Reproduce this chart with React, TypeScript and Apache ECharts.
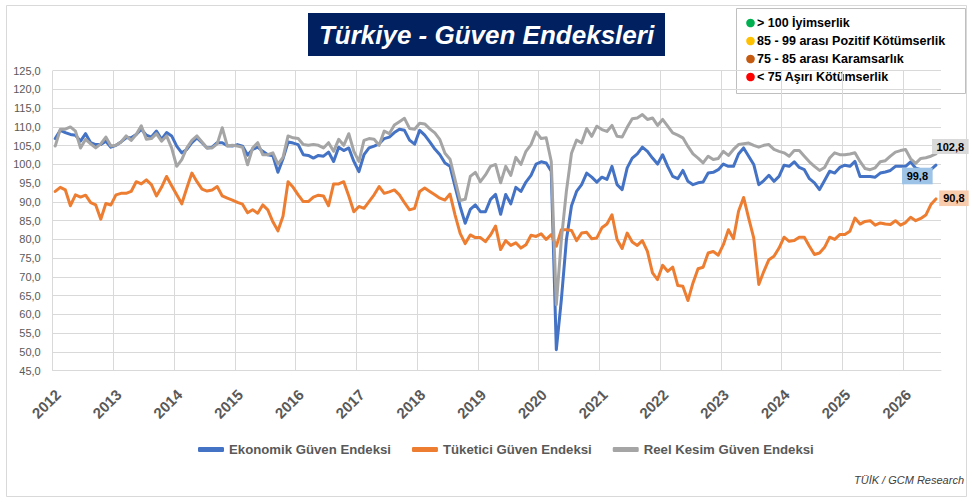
import React, { useEffect, useRef } from 'react';
import * as echarts from 'echarts';

// Tick labels (one per year, placed at each January boundary)
const YEARS = ['2012', '2013', '2014', '2015', '2016', '2017', '2018', '2019', '2020', '2021', '2022', '2023', '2024', '2025', '2026'];

const SERIES_NAMES = ['Ekonomik Güven Endeksi', 'Tüketici Güven Endeksi', 'Reel Kesim Güven Endeksi'];

// Monthly values, Jan 2012 .. Jul 2026
const ekonomik = [
  106.9, 109.1, 108.5, 108.0, 107.8, 106.2, 108.2, 105.8, 105.3, 105.3, 106.2, 104.6,
  105.1, 106.0, 107.1, 107.1, 108.0, 109.4, 107.8, 107.3, 108.9, 106.7, 108.5, 107.6,
  104.9, 103.1, 104.0, 105.8, 107.1, 105.8, 104.4, 104.6, 105.8, 105.8, 105.0, 104.9,
  105.3, 104.9, 102.5, 104.0, 104.6, 103.5, 102.6, 102.3, 97.9, 101.5, 106.0, 105.7,
  105.3, 102.6, 102.4, 101.7, 102.4, 102.2, 103.3, 100.8, 104.6, 103.7, 104.4, 100.8,
  98.1, 102.6, 104.4, 104.9, 105.5, 106.9, 107.3, 108.5, 109.4, 109.1, 106.5, 105.4,
  109.1, 107.8, 106.0, 104.1, 102.6, 100.4, 99.5, 94.1, 88.8, 84.3, 88.0, 89.2,
  87.4, 87.4, 90.7, 92.0, 86.7, 92.0, 89.5, 93.9, 92.8, 95.3, 97.1, 100.1,
  100.7, 100.4, 98.2, 50.6, 64.0, 80.0, 89.0, 92.8, 94.6, 97.7, 96.6, 95.3,
  96.6, 96.0, 99.5, 94.6, 93.3, 99.1, 101.7, 102.8, 104.6, 103.5, 101.7, 100.1,
  102.6, 99.5, 96.8, 96.2, 98.4, 95.5, 94.6, 95.1, 95.3, 97.7, 97.9, 98.6,
  100.1, 99.5, 99.5, 102.8, 104.4, 102.2, 100.0, 94.6, 95.7, 97.1, 95.5, 96.8,
  99.8, 99.5, 100.7, 99.2, 98.6, 96.2, 95.1, 93.3, 95.7, 98.2, 97.7, 99.2,
  99.8, 99.5, 100.8, 96.8, 96.8, 96.8, 96.6, 97.7, 98.0, 98.4, 99.5, 99.5,
  99.5, 100.7, 99.0, 98.6, 98.4, 98.6, 99.8,
];

const tuketici = [
  92.8, 93.9, 93.2, 89.0, 91.9, 91.3, 91.8, 89.8, 89.2, 85.4, 89.6, 89.2,
  91.9, 92.3, 92.3, 92.8, 95.4, 94.8, 95.9, 94.6, 91.6, 93.9, 96.8, 94.3,
  91.9, 89.5, 93.7, 97.7, 95.4, 93.4, 92.9, 93.2, 94.1, 91.6, 91.0, 90.5,
  89.9, 89.4, 87.1, 87.9, 87.0, 89.2, 87.9, 84.7, 82.3, 86.2, 95.4, 93.9,
  91.9, 90.1, 90.1, 91.3, 91.8, 91.6, 89.0, 94.8, 94.8, 95.4, 91.6, 87.4,
  88.8, 88.3, 90.1, 91.9, 94.1, 92.3, 92.7, 93.2, 91.9, 89.8, 87.9, 88.3,
  92.8, 93.7, 92.8, 91.9, 91.0, 90.5, 92.1, 86.5, 81.6, 78.9, 81.2, 80.5,
  80.5, 79.4, 81.2, 83.6, 77.3, 79.7, 78.4, 79.1, 77.7, 78.6, 81.1, 80.8,
  81.5, 80.0, 81.3, 78.2, 82.6, 82.6, 82.4, 79.7, 81.7, 81.9, 80.2, 80.4,
  83.1, 84.1, 86.6, 80.0, 77.6, 81.7, 79.3, 78.4, 79.7, 76.8, 71.1, 69.3,
  73.1, 71.5, 72.6, 67.7, 67.5, 63.7, 68.4, 72.2, 72.6, 76.4, 76.8, 75.8,
  78.6, 82.6, 80.2, 87.5, 91.2, 85.7, 80.4, 68.0, 71.5, 74.6, 75.5, 77.7,
  80.6, 79.5, 79.7, 80.6, 80.6, 78.2, 76.0, 76.4, 77.9, 80.6, 80.0, 81.3,
  81.3, 82.2, 85.7, 84.1, 84.8, 85.0, 83.8, 84.4, 84.1, 84.0, 85.0, 83.8,
  84.5, 85.9, 85.0, 85.6, 86.5, 89.3, 90.8,
];

const reelKesim = [
  104.9, 109.4, 109.4, 110.0, 108.9, 104.4, 106.7, 105.5, 104.4, 105.5, 107.3, 104.9,
  105.1, 106.0, 107.6, 106.4, 108.0, 110.3, 106.7, 106.9, 108.2, 106.2, 107.6, 104.4,
  99.5, 101.3, 104.4, 106.4, 107.6, 106.0, 104.4, 104.4, 105.5, 109.8, 104.9, 105.1,
  104.9, 104.6, 99.9, 104.4, 105.8, 102.6, 102.6, 103.1, 100.1, 101.9, 107.6, 107.1,
  106.9, 105.3, 105.1, 105.3, 105.1, 104.4, 105.8, 103.5, 106.7, 105.1, 108.2, 103.5,
  100.8, 106.4, 106.9, 106.7, 105.1, 108.9, 108.2, 110.5, 111.4, 112.3, 109.6, 109.4,
  111.0, 110.8, 109.5, 108.4, 106.6, 103.0, 101.4, 95.9, 90.4, 90.7, 96.8, 97.9,
  95.4, 97.2, 99.5, 100.0, 95.1, 99.5, 97.1, 101.9, 100.0, 103.5, 105.3, 108.7,
  106.9, 107.1, 100.8, 62.6, 80.0, 93.0, 103.0, 106.5, 105.7, 109.6, 107.5, 110.2,
  109.3, 108.8, 110.4, 107.5, 107.3, 109.9, 112.2, 112.4, 113.3, 112.0, 112.4, 110.4,
  112.0, 110.2, 108.4, 107.8, 107.1, 104.8, 102.8, 101.7, 100.4, 102.2, 101.3, 101.6,
  103.5, 102.4, 104.0, 105.3, 105.5, 105.7, 105.1, 104.6, 105.1, 105.3, 104.0, 103.5,
  103.1, 102.2, 103.7, 103.7, 102.2, 100.7, 99.5, 98.4, 99.2, 101.7, 103.1, 102.6,
  102.6, 102.8, 103.1, 100.8, 98.9, 98.6, 99.1, 100.7, 101.0, 102.2, 103.3, 103.7,
  104.0, 101.5, 100.3, 101.6, 101.8, 102.2, 102.8,
];

const BAND_LABELS = ['> 100 İyimserlik', '85 - 99 arası Pozitif Kötümserlik', '75 - 85 arası Karamsarlık', '< 75 Aşırı Kötümserlik'];
const BAND_COLORS = ['#00b050', '#ffc000', '#c55a11', '#ff0000'];

const TITLE = 'Türkiye - Güven Endeksleri';
const SOURCE = 'TÜİK / GCM Research';

const FONT = '"Liberation Sans", Arial, sans-serif';

export default function App() {
  const ref = useRef<HTMLDivElement>(null);

  useEffect(() => {
    if (!ref.current) return;
    const chart = echarts.init(ref.current, null, { renderer: 'svg' });
    const fmt = (v: number) => v.toFixed(1).replace('.', ',');

    const marker = (arr: number[], bg: string, size: number[], offset: number[]) => ({
      silent: true,
      animation: false,
      symbol: 'rect',
      symbolSize: size,
      symbolOffset: offset,
      itemStyle: { color: bg },
      label: {
        show: true,
        position: 'inside',
        formatter: () => fmt(arr[arr.length - 1]),
        color: '#000',
        fontWeight: 'bold',
        fontSize: 11,
        fontFamily: FONT,
      },
      data: [{ coord: [arr.length - 1, arr[arr.length - 1]], value: arr[arr.length - 1] }],
    });

    const lineSeries = (name: string, arr: number[], color: string, mp: any) => ({
      name,
      type: 'line',
      data: arr.map((v, i) => [i, v]),
      showSymbol: false,
      symbol: 'none',
      lineStyle: { width: 3, color, cap: 'round', join: 'round' },
      itemStyle: { color },
      markPoint: mp,
    });

    const graphics: any[] = [
      {
        type: 'rect',
        shape: { x: 6.5, y: 5.5, width: 960, height: 491 },
        style: { fill: 'none', stroke: '#d9d9d9', lineWidth: 1 },
        silent: true,
        z: -10,
      },
      {
        type: 'rect',
        shape: { x: 308, y: 13, width: 357, height: 43 },
        style: { fill: '#002060' },
        silent: true,
      },
      {
        type: 'text',
        x: 486.5,
        y: 35,
        style: {
          text: TITLE,
          fill: '#ffffff',
          fontFamily: FONT,
          fontSize: 26,
          fontWeight: 'bold',
          fontStyle: 'italic',
          align: 'center',
          verticalAlign: 'middle',
        },
        silent: true,
      },
      {
        type: 'rect',
        shape: { x: 736.5, y: 8.5, width: 229, height: 85 },
        style: { fill: '#ffffff', stroke: '#bfbfbf', lineWidth: 1 },
        silent: true,
      },
      {
        type: 'text',
        right: 8,
        top: 474,
        style: {
          text: SOURCE,
          fill: '#404040',
          fontFamily: FONT,
          fontSize: 11,
          fontStyle: 'italic',
        },
        silent: true,
      },
    ];
    BAND_LABELS.forEach((label, i) => {
      const cy = 23 + i * 18;
      graphics.push({
        type: 'circle',
        shape: { cx: 750.5, cy, r: 4.3 },
        style: { fill: BAND_COLORS[i] },
        silent: true,
      });
      graphics.push({
        type: 'text',
        x: 757,
        y: cy,
        style: {
          text: label,
          fill: '#000000',
          fontFamily: FONT,
          fontSize: 12.5,
          fontWeight: 'bold',
          verticalAlign: 'middle',
        },
        silent: true,
      });
    });

    chart.setOption({
      animation: false,
      backgroundColor: '#ffffff',
      textStyle: { fontFamily: FONT },
      grid: { left: 52.7, right: 31, top: 70.7, bottom: 131.3, containLabel: false },
      legend: {
        data: SERIES_NAMES,
        left: 193,
        top: 438,
        icon: 'roundRect',
        itemWidth: 26,
        itemHeight: 5,
        itemGap: 21,
        selectedMode: false,
        textStyle: { fontFamily: FONT, fontSize: 13.2, fontWeight: 'bold', color: '#595959' },
      },
      xAxis: {
        type: 'value',
        min: -0.5,
        max: 175,
        interval: 12,
        axisLine: { show: true, lineStyle: { color: '#d9d9d9', width: 1 } },
        axisTick: { show: false },
        splitLine: { show: true, showMaxLine: false, lineStyle: { color: '#d9d9d9', width: 1 } },
        axisLabel: {
          rotate: 45,
          verticalAlign: 'top',
          margin: 16,
          showMaxLabel: false,
          fontFamily: FONT,
          fontSize: 15,
          fontWeight: 'bold',
          color: '#595959',
          formatter: (v: number) => {
            const k = Math.round((v + 0.5) / 12);
            return Math.abs((v + 0.5) - k * 12) < 1e-6 && YEARS[k] ? YEARS[k] : '';
          },
        },
      },
      yAxis: {
        type: 'value',
        min: 45,
        max: 125,
        interval: 5,
        axisLine: { show: false },
        axisTick: { show: false },
        splitLine: { show: true, lineStyle: { color: '#d9d9d9', width: 1 } },
        axisLabel: {
          margin: 12,
          fontFamily: FONT,
          fontSize: 11,
          color: '#595959',
          formatter: (v: number) => fmt(v),
        },
      },
      series: [
        lineSeries(SERIES_NAMES[0], ekonomik, '#4472c4', marker(ekonomik, '#9dc3e6', [30.6, 16.6], [-18.6, 10.8])),
        lineSeries(SERIES_NAMES[1], tuketici, '#ed7d31', marker(tuketici, '#f8cbad', [29.5, 15.6], [18, -0.7])),
        lineSeries(SERIES_NAMES[2], reelKesim, '#a5a5a5', marker(reelKesim, '#d9d9d9', [36.6, 15], [14.4, -7.4])),
      ],
      graphic: graphics,
    });

    return () => {
      chart.dispose();
    };
  }, []);

  return (
    <div
      ref={ref}
      style={{ position: 'fixed', left: 0, top: 0, width: 972, height: 502, background: '#ffffff' }}
    />
  );
}
